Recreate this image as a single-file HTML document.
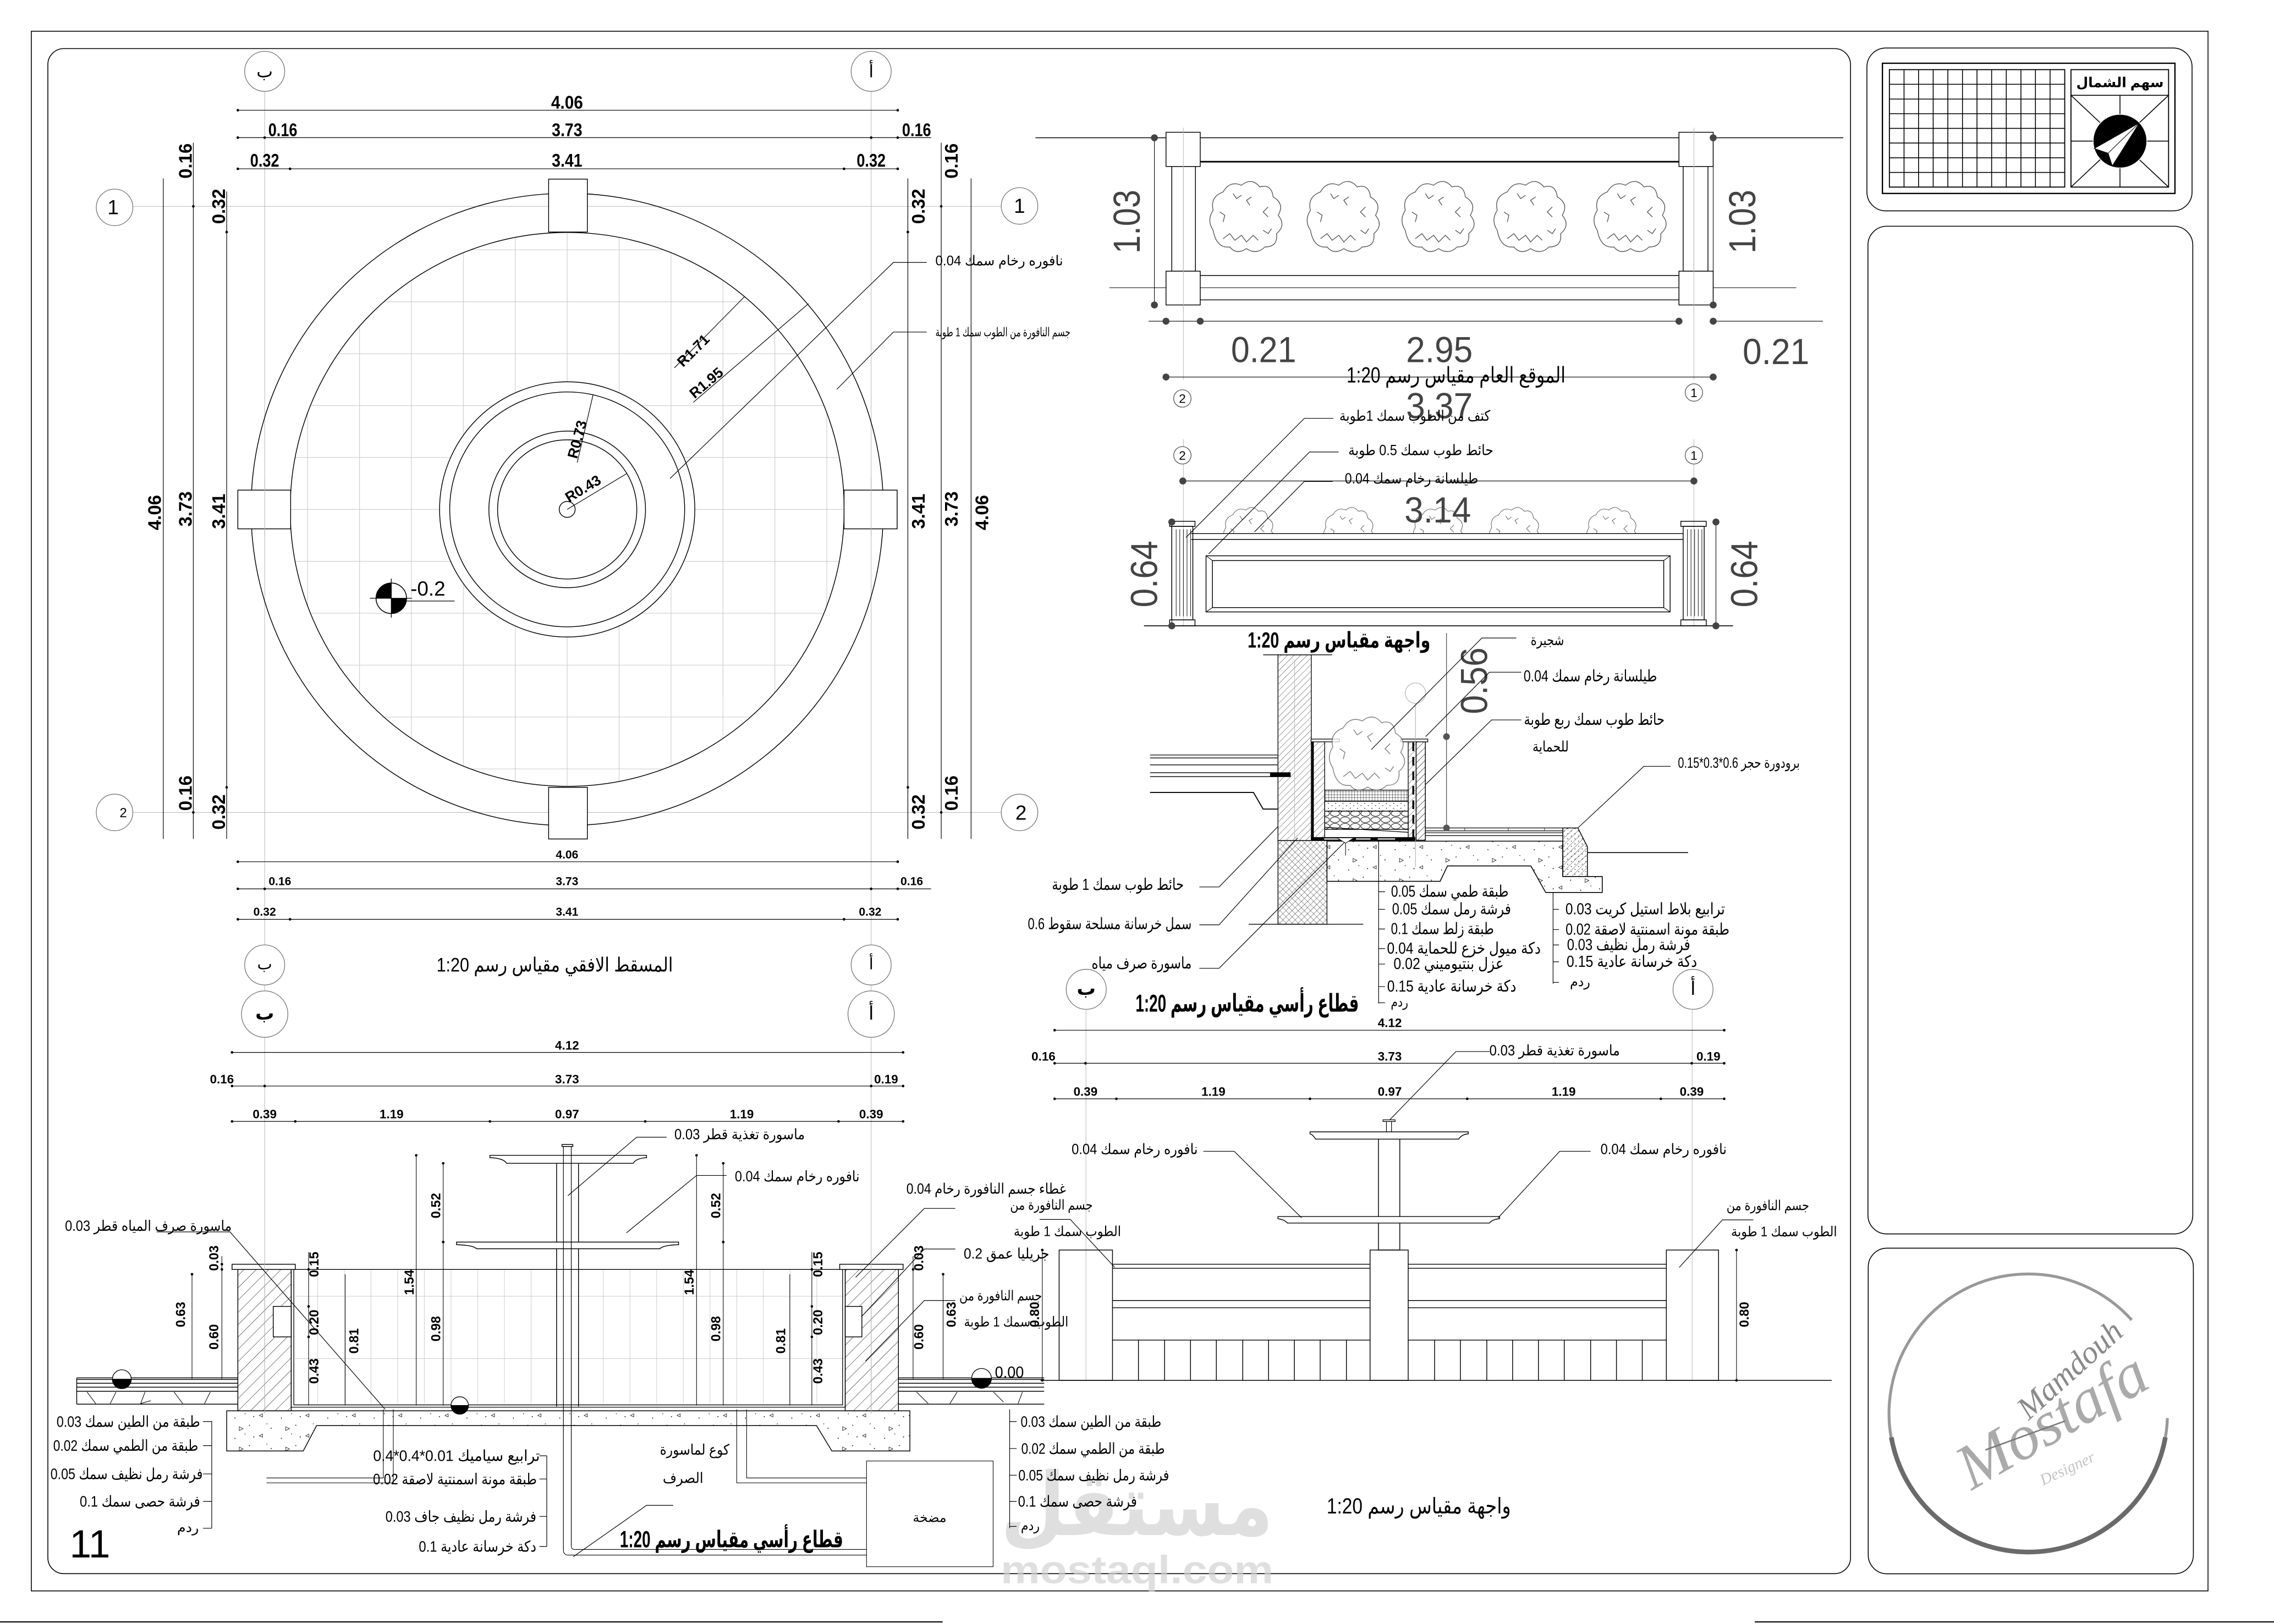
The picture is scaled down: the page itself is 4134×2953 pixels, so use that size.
<!DOCTYPE html>
<html><head><meta charset="utf-8">
<style>
html,body{margin:0;padding:0;background:#fff;}
svg{display:block;}
text{font-family:"Liberation Sans","DejaVu Sans",sans-serif;fill:#000;}
.a{font-family:"Liberation Sans","DejaVu Sans",sans-serif;dominant-baseline:central;text-anchor:middle;}
.d{font-family:"Liberation Sans Narrow","Liberation Sans",sans-serif;font-weight:bold;dominant-baseline:central;text-anchor:middle;}
.big{font-family:"Liberation Sans Narrow","Liberation Sans",sans-serif;fill:#444;dominant-baseline:central;text-anchor:middle;}
.logo{font-family:"Liberation Serif",serif;font-style:italic;text-anchor:middle;}
</style></head><body>
<svg width="4134" height="2953" viewBox="0 0 1568 1120" xmlns="http://www.w3.org/2000/svg">
<defs>
 <pattern id="h45" width="3.2" height="3.2" patternUnits="userSpaceOnUse" patternTransform="rotate(45)"><line x1="0" y1="0" x2="0" y2="3.2" stroke="#000" stroke-width="0.3"/></pattern>
 <pattern id="h45b" width="6" height="6" patternUnits="userSpaceOnUse" patternTransform="rotate(45)"><line x1="0" y1="0" x2="0" y2="6" stroke="#000" stroke-width="0.4"/></pattern>
 <pattern id="hx" width="3" height="3" patternUnits="userSpaceOnUse" patternTransform="rotate(45)"><path d="M0,0V3M0,0H3" stroke="#000" stroke-width="0.3" fill="none"/></pattern>
 <pattern id="mesh" width="2" height="2" patternUnits="userSpaceOnUse"><path d="M0,0H2M0,0V2" stroke="#000" stroke-width="0.35" fill="none"/></pattern>
 <pattern id="sand" width="5" height="3.5" patternUnits="userSpaceOnUse"><circle cx="1" cy="1" r="0.3"/><circle cx="3.5" cy="2.6" r="0.3"/></pattern>
 <pattern id="stone" width="7" height="4.4" patternUnits="userSpaceOnUse"><ellipse cx="3.5" cy="2.2" rx="3.2" ry="1.9" fill="none" stroke="#000" stroke-width="0.35"/></pattern>
 <pattern id="conc" width="32" height="14" patternUnits="userSpaceOnUse"><path d="M5,4 l2.6,1.3 l-2.6,1.3z M21,9 l-2.2,1.2 l2.2,1z" fill="none" stroke="#000" stroke-width="0.3"/><circle cx="12" cy="3" r="0.35"/><circle cx="27" cy="5" r="0.35"/><circle cx="15" cy="11" r="0.35"/><circle cx="2" cy="12" r="0.35"/><circle cx="24" cy="2" r="0.3"/><circle cx="9" cy="9" r="0.3"/></pattern>
 <clipPath id="cpg"><circle cx="391.1" cy="351.3" r="191"/></clipPath>
 <clipPath id="cpe"><rect x="800" y="330" width="400" height="38"/></clipPath>
 <g id="shrub" fill="#fff" stroke="#555" stroke-width="0.45">
  <path d="M-20,8 Q-24,2 -20,-4 Q-22,-12 -14,-15 Q-10,-22 -3,-19 Q3,-24 8,-18 Q15,-20 16,-12 Q23,-8 19,-1 Q24,5 18,10 Q19,18 11,18 Q6,23 0,19 Q-6,23 -10,18 Q-18,19 -20,8 Z"/>
  <path d="M-14,13 l4,-3 l3,4 l4,-3 l3,4 l4,-4 l3,3 M-16,-3 l3,2 l-1,4 M13,-6 l-3,3 l3,3 M3,-12 l-3,2 l2,3 M-8,-14 l2,3 l3,-2 M10,8 l3,2 l2,-3" fill="none"/>
 </g>
</defs>

<!-- ===== FRAMES ===== -->
<g fill="none" stroke="#000" stroke-width="0.6">
 <rect x="21.6" y="21.5" width="1500.9" height="1075.7"/>
 <rect x="33" y="33.5" width="1243" height="1051.8" rx="11"/>
 <rect x="1287.3" y="33.1" width="224.2" height="112.3" rx="13"/>
 <rect x="1288" y="156" width="224" height="695" rx="13"/>
 <rect x="1288.2" y="860.8" width="224.2" height="224.6" rx="13"/>
 <path d="M0,1118.6H650M1210,1118.6H1568" stroke-width="0.8"/>
</g>

<!-- ===== TITLE BLOCK TOP ===== -->
<g fill="none" stroke="#000">
 <rect x="1298" y="43.6" width="201.7" height="89.8" stroke-width="0.9"/>
 <rect x="1302.8" y="48" width="120.9" height="81" stroke-width="0.7"/>
 <path stroke-width="0.6" d="M1312.9,48V129M1322.9,48V129M1333,48V129M1343.1,48V129M1353.2,48V129M1363.2,48V129M1373.3,48V129M1383.4,48V129M1393.5,48V129M1403.5,48V129M1413.6,48V129
 M1302.8,58.1H1423.7M1302.8,68.3H1423.7M1302.8,78.4H1423.7M1302.8,88.5H1423.7M1302.8,98.6H1423.7M1302.8,108.8H1423.7M1302.8,118.9H1423.7"/>
 <rect x="1428" y="48" width="67.3" height="81" stroke-width="0.7"/>
 <path stroke-width="0.6" d="M1428,65.7H1495.3M1461.8,65.7V129M1428,97.3H1495.3M1428,65.7L1495.3,129M1495.3,65.7L1428,129"/>
</g>
<text x="1461.8" y="57" class="a" font-size="9.5" font-weight="bold">سهم الشمال</text>
<circle cx="1461.8" cy="97.3" r="18.5" fill="#000" stroke="#fff" stroke-width="0.5"/>
<path d="M1475.2,84.7 L1444.1,102.4 L1453.6,105.6 L1456.5,114.4 Z" fill="#fff" stroke="#000" stroke-width="0.4"/>
<path d="M1475.2,84.7 L1453.6,105.6" stroke="#000" stroke-width="0.4"/>

<!-- ===== LOGO ===== -->
<path d="M1494.5,978 A96,96 0 1 1 1469.9,910.4" fill="none" stroke="#999" stroke-width="2"/>
<path d="M1493.1,991.3 A96,96 0 0 1 1304.1,991.3" fill="none" stroke="#6a6a6a" stroke-width="3.2"/>
<text x="1432" y="950" class="logo" font-size="22" style="fill:#8a8a8a" transform="rotate(-42 1432 950)">Mamdouh</text>
<text x="1422" y="992" class="logo" font-size="44" style="fill:#aaa" transform="rotate(-30 1422 992)">Mostafa</text>
<text x="1427" y="1016" class="logo" font-size="11" style="fill:#c4c4c4" transform="rotate(-25 1427 1016)">Designer</text>
<path d="M1369,1000 L1424,980" stroke="#777" stroke-width="1"/>

<!-- ===== WATERMARK ===== -->
<g opacity="0.7">
<text x="784" y="1038" class="a" font-size="60" font-weight="bold" style="fill:#d2d2d2" textLength="188" lengthAdjust="spacingAndGlyphs">مستقل</text>
<text x="784" y="1083" class="a" font-size="27" font-weight="bold" style="fill:#d2d2d2" textLength="188" lengthAdjust="spacingAndGlyphs">mostaql.com</text>
</g>

<!-- ===== PLAN VIEW ===== -->
<g stroke="#bbb" stroke-width="0.4" fill="none">
 <path d="M182.5,63V651.7M182.5,679.3V683.4M182.5,715.4V975M600.7,63V651.7M600.7,679.3V683.4M600.7,715.4V975M92,142.3H690M92,560.3H690"/>
</g>
<g clip-path="url(#cpg)" stroke="#cfcfcf" stroke-width="0.45">
 <path d="M212.1,150V560M247.9,150V560M283.7,150V560M319.5,150V560M355.3,150V560M391.1,150V560M426.9,150V560M462.7,150V560M498.5,150V560M534.3,150V560M570.1,150V560
 M190,172.3H600M190,208.1H600M190,243.9H600M190,279.7H600M190,315.5H600M190,351.3H600M190,387.1H600M190,422.9H600M190,458.7H600M190,494.5H600M190,530.3H600"/>
</g>
<g fill="none" stroke="#000" stroke-width="0.55">
 <circle cx="391.1" cy="351.3" r="218"/>
 <circle cx="391.1" cy="351.3" r="191"/>
 <circle cx="391.1" cy="351.3" r="88" fill="#fff"/>
 <circle cx="391.1" cy="351.3" r="81"/>
 <circle cx="391.1" cy="351.3" r="54"/>
 <circle cx="391.1" cy="351.3" r="48"/>
 <circle cx="391.1" cy="351.3" r="5.5"/>
 <rect x="378.3" y="123.5" width="26.7" height="36.5" fill="#fff"/>
 <rect x="378.3" y="543" width="26.7" height="35.6" fill="#fff"/>
 <rect x="164" y="338" width="36.4" height="26.7" fill="#fff"/>
 <rect x="582" y="338" width="36.6" height="26.7" fill="#fff"/>
</g>
<g stroke="#bbb" stroke-width="0.4"><path d="M182.5,330V370M600.7,330V370"/></g>
<!-- axis circles -->
<g fill="#fff" stroke="#777" stroke-width="0.5">
 <circle cx="182.5" cy="49.2" r="13.8"/><circle cx="600.7" cy="49.2" r="13.8"/>
 <circle cx="79" cy="143" r="12.6"/><circle cx="703" cy="142" r="12.6"/>
 <circle cx="79" cy="560.3" r="12.6"/><circle cx="703" cy="560.3" r="12.6"/>
 <circle cx="182.5" cy="665.5" r="13.8"/><circle cx="600.7" cy="665.5" r="13.8"/>
 <circle cx="182.5" cy="699.4" r="16"/><circle cx="600.7" cy="699.4" r="16"/>
</g>
<text x="182.5" y="49" class="a" font-size="12">ب</text>
<text x="600.7" y="49" class="a" font-size="12">أ</text>
<text x="78" y="143" class="a" font-size="14">1</text>
<text x="703" y="142" class="a" font-size="14">1</text>
<text x="85" y="561" class="a" font-size="9">2</text>
<text x="704" y="560.5" class="a" font-size="14">2</text>
<text x="182.5" y="665" class="a" font-size="11">ب</text>
<text x="600.7" y="665" class="a" font-size="11">أ</text>
<text x="182.5" y="699" class="a" font-size="13" font-weight="bold">ب</text>
<text x="600.7" y="699" class="a" font-size="13">أ</text>

<!-- plan dims -->
<g stroke="#000" stroke-width="0.45" fill="none">
 <path d="M164,76H619M164,94.9H642M164,116.4H619"/>
 <path d="M112.6,123V578.6M133.3,98.4V578.6M156.3,132V578.6M626,123V578.6M649,98.4V578.6M669.6,123V578.6"/>
 <path d="M164,594.3H619M164,613H642M164,634H619"/>
</g>
<g fill="#000">
 <circle cx="164" cy="76" r="0.9"/><circle cx="619" cy="76" r="0.9"/>
 <circle cx="164" cy="94.9" r="0.9"/><circle cx="182.5" cy="94.9" r="0.9"/><circle cx="600.7" cy="94.9" r="0.9"/><circle cx="619" cy="94.9" r="0.9"/>
 <circle cx="164" cy="116.4" r="0.9"/><circle cx="200" cy="116.4" r="0.9"/><circle cx="582" cy="116.4" r="0.9"/><circle cx="619" cy="116.4" r="0.9"/>
 <circle cx="133.3" cy="142.3" r="0.9"/><circle cx="133.3" cy="560.3" r="0.9"/><circle cx="156.3" cy="160" r="0.9"/><circle cx="156.3" cy="543" r="0.9"/>
 <circle cx="649" cy="142.3" r="0.9"/><circle cx="649" cy="560.3" r="0.9"/><circle cx="626" cy="160" r="0.9"/><circle cx="626" cy="543" r="0.9"/>
 <circle cx="164" cy="594.3" r="0.9"/><circle cx="619" cy="594.3" r="0.9"/>
 <circle cx="164" cy="613" r="0.9"/><circle cx="182.5" cy="613" r="0.9"/><circle cx="600.7" cy="613" r="0.9"/><circle cx="619" cy="613" r="0.9"/>
 <circle cx="164" cy="634" r="0.9"/><circle cx="200" cy="634" r="0.9"/><circle cx="582" cy="634" r="0.9"/><circle cx="619" cy="634" r="0.9"/>
</g>
<g font-size="12.5">
 <text x="391" y="70.5" textLength="22" lengthAdjust="spacingAndGlyphs" class="d">4.06</text>
 <text x="195" y="89.5" class="d" textLength="20" lengthAdjust="spacingAndGlyphs">0.16</text>
 <text x="391" y="89.5" class="d" textLength="21" lengthAdjust="spacingAndGlyphs">3.73</text>
 <text x="632" y="89.5" class="d" textLength="20" lengthAdjust="spacingAndGlyphs">0.16</text>
 <text x="182.5" y="110.5" class="d" textLength="20" lengthAdjust="spacingAndGlyphs">0.32</text>
 <text x="391" y="110.5" class="d" textLength="21" lengthAdjust="spacingAndGlyphs">3.41</text>
 <text x="600.7" y="110.5" class="d" textLength="20" lengthAdjust="spacingAndGlyphs">0.32</text>
 <text x="106.6" y="353.5" class="d" transform="rotate(-90 106.6 353.5)">4.06</text>
 <text x="127.8" y="111" class="d" transform="rotate(-90 127.8 111)">0.16</text>
 <text x="127.8" y="351" class="d" transform="rotate(-90 127.8 351)">3.73</text>
 <text x="127.8" y="547" class="d" transform="rotate(-90 127.8 547)">0.16</text>
 <text x="150.7" y="142.3" class="d" transform="rotate(-90 150.7 142.3)">0.32</text>
 <text x="150.7" y="352.6" class="d" transform="rotate(-90 150.7 352.6)">3.41</text>
 <text x="150.7" y="560" class="d" transform="rotate(-90 150.7 560)">0.32</text>
 <text x="633.3" y="142.3" class="d" transform="rotate(-90 633.3 142.3)">0.32</text>
 <text x="633.3" y="352.6" class="d" transform="rotate(-90 633.3 352.6)">3.41</text>
 <text x="633.3" y="560" class="d" transform="rotate(-90 633.3 560)">0.32</text>
 <text x="656" y="111" class="d" transform="rotate(-90 656 111)">0.16</text>
 <text x="656" y="351" class="d" transform="rotate(-90 656 351)">3.73</text>
 <text x="656" y="547" class="d" transform="rotate(-90 656 547)">0.16</text>
 <text x="677" y="353.5" class="d" transform="rotate(-90 677 353.5)">4.06</text>
</g>
<g>
 <text x="391" y="589.5" class="d" font-size="8">4.06</text>
 <text x="193" y="608" class="d" font-size="8">0.16</text>
 <text x="391" y="608" class="d" font-size="8">3.73</text>
 <text x="628.7" y="608" class="d" font-size="8">0.16</text>
 <text x="182.5" y="629" class="d" font-size="8">0.32</text>
 <text x="391" y="629" class="d" font-size="8">3.41</text>
 <text x="600" y="629" class="d" font-size="8">0.32</text>
</g>
<!-- plan radii & leaders -->
<g stroke="#000" stroke-width="0.45" fill="none">
 <path d="M513.4,204.5L465,253.7M557.5,209.4L478,277.5M409,272L398,319M391.1,351.3L432,326.7"/>
 <path d="M639,181H616L462,330M639,229H616L577,268.5"/>
</g>
<text x="478" y="241.7" class="d" font-size="10" transform="rotate(-45 478 241.7)">R1.71</text>
<text x="487" y="264" class="d" font-size="10" transform="rotate(-40 487 264)">R1.95</text>
<text x="398" y="303" class="d" font-size="10" transform="rotate(-75 398 303)">R0.73</text>
<text x="402" y="337" class="d" font-size="10" transform="rotate(-31 402 337)">R0.43</text>
<text x="689" y="180" class="a" font-size="9.5" textLength="88" lengthAdjust="spacingAndGlyphs">نافوره رخام سمك 0.04</text>
<text x="691.5" y="229" class="a" font-size="8.5" textLength="93" lengthAdjust="spacingAndGlyphs">جسم النافورة من الطوب سمك 1 طوبة</text>
<!-- level -->
<circle cx="269.8" cy="412.6" r="10.5" fill="#fff" stroke="#000" stroke-width="0.6"/>
<path d="M269.8,412.6 L259.3,412.6 A10.5,10.5 0 0 1 269.8,402.1 Z M269.8,412.6 L280.3,412.6 A10.5,10.5 0 0 1 269.8,423.1 Z" fill="#000"/>
<path d="M255,412.6H284M269.8,399V426M276,414.5H313.5" stroke="#000" stroke-width="0.5"/>
<text x="283" y="406" font-size="14" dominant-baseline="central">-0.2</text>
<text x="382.5" y="665.5" class="a" font-size="13.5" textLength="163" lengthAdjust="spacingAndGlyphs">المسقط الافقي مقياس رسم 1:20</text>

<!-- ===== SITE PLAN ===== -->
<g stroke="#bbb" stroke-width="0.4"><path d="M816,88V262M816,303V432M1168,88V262M1168,303V432"/></g>
<g fill="none" stroke="#000" stroke-width="0.55">
 <path d="M714,95H1271"/>
 <path d="M827.6,111.5H1157.7" stroke-width="1.1"/>
 <path d="M827.6,190H1157.7M827.6,206.8H1157.7"/>
 <path d="M765,198.4H1238.6" stroke-width="0.4"/>
 <rect x="808" y="114.8" width="16.3" height="72.2"/>
 <rect x="1160.6" y="114.8" width="17.1" height="72.2"/>
 <rect x="804" y="91.2" width="23.6" height="23.6" fill="#fff"/>
 <rect x="804" y="187" width="23.6" height="23.3" fill="#fff"/>
 <rect x="1157.7" y="91.2" width="23.6" height="23.6" fill="#fff"/>
 <rect x="1157.7" y="187" width="23.6" height="23.3" fill="#fff"/>
 <path d="M796,95V210.3M1181.3,95V210.3" stroke-width="0.4"/>
 <path d="M792,221.5H1160M1181,221.5H1257M804,260H1181.3" stroke-width="0.45"/>
</g>
<g stroke="#bbb" stroke-width="0.4"><path d="M816,91V215M1168,91V215"/></g>
<use href="#shrub" transform="translate(859.5,149.6) scale(1.15)"/>
<use href="#shrub" transform="translate(926.6,149.6) scale(1.15)"/>
<use href="#shrub" transform="translate(992,149.6) scale(1.15)"/>
<use href="#shrub" transform="translate(1055.4,149.6) scale(1.15)"/>
<use href="#shrub" transform="translate(1124.4,149.6) scale(1.15)"/>
<g fill="#444">
 <circle cx="796" cy="95" r="2.4"/><circle cx="1181.3" cy="95" r="2.4"/><circle cx="796" cy="210.3" r="2.4"/><circle cx="1181.3" cy="210.3" r="2.4"/>
 <circle cx="804" cy="221.5" r="2.4"/><circle cx="827.6" cy="221.5" r="2.4"/><circle cx="1157.7" cy="221.5" r="2.4"/><circle cx="1181.3" cy="221.5" r="2.4"/>
 <circle cx="804" cy="260" r="2.4"/><circle cx="1181.3" cy="260" r="2.4"/>
</g>
<text x="777" y="152.8" class="big" font-size="26" transform="rotate(-90 777 152.8)" textLength="44" lengthAdjust="spacingAndGlyphs">1.03</text>
<text x="1201.5" y="152.8" class="big" font-size="26" transform="rotate(-90 1201.5 152.8)" textLength="44" lengthAdjust="spacingAndGlyphs">1.03</text>
<text x="871.3" y="241" class="big" font-size="25" textLength="45" lengthAdjust="spacingAndGlyphs">0.21</text>
<text x="992.5" y="241" class="big" font-size="25" textLength="46" lengthAdjust="spacingAndGlyphs">2.95</text>
<text x="1224.6" y="242.3" class="big" font-size="25" textLength="46" lengthAdjust="spacingAndGlyphs">0.21</text>
<text x="992.5" y="279.8" class="big" font-size="25" textLength="46" lengthAdjust="spacingAndGlyphs">3.37</text>
<text x="1004" y="258.8" class="a" font-size="15" textLength="151" lengthAdjust="spacingAndGlyphs">الموقع العام مقياس رسم 1:20</text>
<g fill="#fff" stroke="#555" stroke-width="0.5">
 <circle cx="815.3" cy="274.8" r="6"/><circle cx="1168" cy="270.7" r="6"/>
 <circle cx="815.3" cy="314" r="6"/><circle cx="1168" cy="314" r="6"/>
</g>
<text x="815.3" y="275" class="a" font-size="8.5">2</text>
<text x="1168" y="271" class="a" font-size="8.5">1</text>
<text x="815.3" y="314.2" class="a" font-size="8.5">2</text>
<text x="1168" y="314.2" class="a" font-size="8.5">1</text>

<!-- ===== ELEVATION (top) ===== -->
<g clip-path="url(#cpe)">
 <use href="#shrub" transform="translate(861.3,367) scale(0.8)"/>
 <use href="#shrub" transform="translate(930.3,367) scale(0.8)"/>
 <use href="#shrub" transform="translate(992,367) scale(0.8)"/>
 <use href="#shrub" transform="translate(1044.6,367) scale(0.8)"/>
 <use href="#shrub" transform="translate(1111.7,367) scale(0.8)"/>
</g>
<g fill="none" stroke="#000" stroke-width="0.55">
 <path d="M815.6,331.7H1168" stroke-width="0.45"/>
 <path d="M821.4,368H1160.6M821.4,372H1160.6"/>
 <rect x="831.6" y="383.3" width="320" height="38.7"/>
 <rect x="836" y="386.6" width="311.2" height="32.4"/>
 <path d="M831.6,383.3L836,386.6M1151.6,383.3L1147.2,386.6M831.6,422L836,419M1151.6,422L1147.2,419" stroke-width="0.4"/>
 <rect x="808" y="363" width="14.5" height="64.5"/>
 <rect x="806.5" y="359.5" width="17.5" height="3.5"/>
 <rect x="806.5" y="427.5" width="17.5" height="4.1"/>
 <path d="M811,365V425M813.5,365V425M816,365V425M818.5,365V425M821,365V425" stroke-width="0.35"/>
 <rect x="1160.6" y="363" width="14.5" height="64.5"/>
 <rect x="1159" y="359.5" width="17.5" height="3.5"/>
 <rect x="1159" y="427.5" width="17.5" height="4.1"/>
 <path d="M1163.5,365V425M1166,365V425M1168.5,365V425M1171,365V425M1173.5,365V425" stroke-width="0.35"/>
 <path d="M788.8,431.6H1195" stroke-width="0.6"/>
 <path d="M808,360V431.6M1183.2,360V431.6" stroke-width="0.4"/>
</g>
<g fill="#444">
 <circle cx="815.6" cy="331.7" r="2.4"/><circle cx="1168" cy="331.7" r="2.4"/>
 <circle cx="808" cy="360" r="2.4"/><circle cx="808" cy="431.6" r="2.4"/><circle cx="1183.2" cy="360" r="2.4"/><circle cx="1183.2" cy="431.6" r="2.4"/>
</g>
<text x="991.4" y="351.5" class="big" font-size="25" textLength="46" lengthAdjust="spacingAndGlyphs">3.14</text>
<text x="788.9" y="395.9" class="big" font-size="26" transform="rotate(-90 788.9 395.9)" textLength="46" lengthAdjust="spacingAndGlyphs">0.64</text>
<text x="1202.7" y="395.9" class="big" font-size="26" transform="rotate(-90 1202.7 395.9)" textLength="46" lengthAdjust="spacingAndGlyphs">0.64</text>
<g stroke="#000" stroke-width="0.45" fill="none">
 <path d="M919.4,288.5H899.4L817.8,370.6M923,311.7H903L833.4,382M919,332H899.4L865,366.8"/>
</g>
<text x="975.6" y="286.8" class="a" font-size="10" textLength="104" lengthAdjust="spacingAndGlyphs">كتف من الطوب سمك 1طوبة</text>
<text x="979.7" y="310.4" class="a" font-size="10" textLength="100" lengthAdjust="spacingAndGlyphs">حائط طوب سمك 0.5 طوبة</text>
<text x="973.3" y="330" class="a" font-size="10" textLength="92" lengthAdjust="spacingAndGlyphs">طيلسانة رخام سمك 0.04</text>
<text x="923.3" y="441.7" class="a" font-size="15" font-weight="bold" textLength="126" lengthAdjust="spacingAndGlyphs">واجهة مقياس رسم 1:20</text>

<!-- ===== SECTION DETAIL (top right) ===== -->
<g stroke="#000" stroke-width="0.5">
 <path d="M793,520.7H881M793,522.7H881M793,527.5H881M793,532.9H881M793,535.6H881" fill="none"/>
 <rect x="876" y="532.9" width="13.7" height="2.7" fill="#000"/>
 <path d="M793,546.5H864.3L871,558H881" fill="none" stroke-width="0.7"/>
 <rect x="881.2" y="451.6" width="23" height="128.1" fill="url(#h45)"/>
 <path d="M871,451.6H918.5" fill="none"/>
 <path d="M892.7,455V578" stroke="#bbb" stroke-width="0.4"/>
 <rect x="881.2" y="579.7" width="33.8" height="57.7" fill="url(#hx)"/>
 <path d="M861,637.4H940" fill="none"/>
 <path d="M915,580.1H1077.6V604.5H1104.8V615.5H1065.8L1055.6,597.2H998.1L993,607.8H915Z" fill="url(#conc)" stroke-width="0.6"/>
 <rect x="904.2" y="511.6" width="9.2" height="67.8" fill="url(#h45)"/>
 <rect x="971" y="511.6" width="11.8" height="67.8" fill="url(#h45)"/>
 <rect x="976.5" y="511.6" width="6.3" height="67.8" fill="url(#h45)"/>
 <rect x="904" y="509.7" width="19.5" height="1.9" fill="#fff"/>
 <rect x="965.9" y="509.7" width="18.6" height="1.9" fill="#fff"/>
 <path d="M905.2,511.6V579.4" stroke-width="1.4"/>
 <path d="M974.5,512V578" stroke-width="1.3" stroke-dasharray="6,4"/>
 <rect x="904.2" y="577.6" width="72" height="2" fill="#000"/>
 <path d="M913,578.6H925M935,578.6H945M950,578.6H962" stroke="#fff" stroke-width="0.8"/>
 <rect x="913.4" y="544.9" width="57.6" height="7.8" fill="url(#mesh)"/>
 <rect x="913.4" y="552.7" width="57.6" height="6.7" fill="url(#sand)"/>
 <rect x="913.4" y="559.4" width="57.6" height="12.6" fill="url(#stone)"/>
 <path d="M913.4,570.5L971,574" fill="none"/>
 <path d="M921.9,577.8H933.7L927.8,581.5Z M927.8,581.5V590" fill="#fff" stroke-width="0.4"/>
 <path d="M983,571H1077.6M983,573H1077.6M983,574.3H1077.6M983,576.3H1077.6" fill="none" stroke-width="0.45"/>
 <path d="M1010,571V573M1040,571V573M1065,571V573" stroke-width="0.3"/>
 <path d="M1077.6,571H1088L1094.6,584V604.5H1077.6Z" fill="url(#sand)"/>
 <path d="M1077.6,571H1088L1094.6,584V604.5H1077.6Z" fill="url(#h45)"/>
 <path d="M1094.6,588H1164" fill="none" stroke-width="0.6"/>
</g>
<use href="#shrub" transform="translate(943,520) scale(1.2)" opacity="0.75"/>
<g stroke="#aaa" stroke-width="0.4" fill="none"><circle cx="976" cy="478" r="7"/><path d="M976,485V598"/></g>
<g stroke="#555" stroke-width="0.5"><path d="M997.4,436.6V571"/></g>
<g fill="#555"><circle cx="997.4" cy="508" r="2.3"/><circle cx="997.4" cy="571" r="2.3"/></g>
<text x="1016.6" y="469.5" class="big" font-size="26" transform="rotate(-90 1016.6 469.5)" textLength="46" lengthAdjust="spacingAndGlyphs">0.56</text>
<g stroke="#000" stroke-width="0.45" fill="none">
 <path d="M1045.5,440H1021.8L945.6,516.9M1049,463.6H1027L983,508M1049,496.5H1028.5L983,541M1152,528.5H1133.5L1088,571"/>
 <path d="M827,611.7H840.6L881.2,570M827,637.8H840.6L894.8,577.8M827,667.8H840.6L927,581"/>
 <path d="M950.6,579.7V692M950.6,615H955M950.6,627.1H955M950.6,640.7H955M950.6,654.2H955M950.6,664.9H955M950.6,680.4H955M950.6,691.6H955"/>
 <path d="M1070.9,615.5V678.4M1070.9,627.1H1075M1070.9,641.1H1075M1070.9,651.7H1075M1070.9,663.3H1075M1070.9,677.5H1075"/>
</g>
<g>
 <text x="1067" y="441.4" class="a" font-size="10" textLength="23" lengthAdjust="spacingAndGlyphs">شجيرة</text>
 <text x="1096.6" y="466.5" class="a" font-size="11" textLength="92" lengthAdjust="spacingAndGlyphs">طيلسانة رخام سمك 0.04</text>
 <text x="1099.3" y="496.5" class="a" font-size="11" textLength="97" lengthAdjust="spacingAndGlyphs">حائط طوب سمك ربع طوبة</text>
 <text x="1069.2" y="514.9" class="a" font-size="10" textLength="25" lengthAdjust="spacingAndGlyphs">للحماية</text>
 <text x="1199" y="526" class="a" font-size="10" textLength="84" lengthAdjust="spacingAndGlyphs">برودورة حجر 0.6*0.3*0.15</text>
 <text x="770.8" y="610.3" class="a" font-size="11" textLength="91" lengthAdjust="spacingAndGlyphs">حائط طوب سمك 1 طوبة</text>
 <text x="765.2" y="637.4" class="a" font-size="11" textLength="113" lengthAdjust="spacingAndGlyphs">سمل خرسانة مسلحة سقوط 0.6</text>
 <text x="787.2" y="664.5" class="a" font-size="11" textLength="69" lengthAdjust="spacingAndGlyphs">ماسورة صرف مياه</text>
 <text x="999.7" y="615" class="a" font-size="11" textLength="81" lengthAdjust="spacingAndGlyphs">طبقة طمي سمك 0.05</text>
 <text x="1000.9" y="627.1" class="a" font-size="11" textLength="82" lengthAdjust="spacingAndGlyphs">فرشة رمل سمك 0.05</text>
 <text x="994.6" y="640.7" class="a" font-size="11" textLength="71" lengthAdjust="spacingAndGlyphs">طبقة زلط سمك 0.1</text>
 <text x="1009.4" y="654.2" class="a" font-size="11" textLength="106" lengthAdjust="spacingAndGlyphs">دكة ميول خزع للحماية 0.04</text>
 <text x="998.9" y="664.9" class="a" font-size="11" textLength="76" lengthAdjust="spacingAndGlyphs">عزل بنتيوميني 0.02</text>
 <text x="1001" y="680.4" class="a" font-size="11" textLength="89" lengthAdjust="spacingAndGlyphs">دكة خرسانة عادية 0.15</text>
 <text x="965" y="691.6" class="a" font-size="9" textLength="12" lengthAdjust="spacingAndGlyphs">ردم</text>
 <text x="1134.4" y="627.1" class="a" font-size="11" textLength="110" lengthAdjust="spacingAndGlyphs">ترابيع بلاط استيل كريت 0.03</text>
 <text x="1136" y="641.1" class="a" font-size="11" textLength="113" lengthAdjust="spacingAndGlyphs">طبقة مونة اسمنتية لاصقة 0.02</text>
 <text x="1123" y="651.7" class="a" font-size="11" textLength="85" lengthAdjust="spacingAndGlyphs">فرشة رمل نظيف 0.03</text>
 <text x="1125.2" y="663.3" class="a" font-size="11" textLength="90" lengthAdjust="spacingAndGlyphs">دكة خرسانة عادية 0.15</text>
 <text x="1089.5" y="677.5" class="a" font-size="9" textLength="14" lengthAdjust="spacingAndGlyphs">ردم</text>
</g>
<g fill="#fff" stroke="#777" stroke-width="0.5"><circle cx="749" cy="682.3" r="13.8"/><circle cx="1167.4" cy="682.3" r="13.8"/></g>
<text x="749" y="682" class="a" font-size="13" font-weight="bold">ب</text>
<text x="1167.4" y="682" class="a" font-size="13">أ</text>
<g stroke="#bbb" stroke-width="0.4"><path d="M748.8,696V952M1166.8,696V952"/></g>
<text x="860" y="692" class="a" font-size="17" font-weight="bold" textLength="154" lengthAdjust="spacingAndGlyphs">قطاع رأسي مقياس رسم 1:20</text>

<!-- ===== BOTTOM-LEFT SECTION ===== -->
<g stroke="#000" stroke-width="0.45" fill="none">
 <path d="M160,725.8H622.7M160,749H622.7M160,773.4H622.7"/>
</g>
<g fill="#000">
 <circle cx="160" cy="725.8" r="0.9"/><circle cx="622.7" cy="725.8" r="0.9"/>
 <circle cx="160" cy="749" r="0.9"/><circle cx="182.5" cy="749" r="0.9"/><circle cx="600.7" cy="749" r="0.9"/><circle cx="622.7" cy="749" r="0.9"/>
 <circle cx="160" cy="773.4" r="0.9"/><circle cx="203.6" cy="773.4" r="0.9"/><circle cx="337.8" cy="773.4" r="0.9"/><circle cx="444.9" cy="773.4" r="0.9"/><circle cx="578.2" cy="773.4" r="0.9"/><circle cx="622.7" cy="773.4" r="0.9"/>
</g>
<text x="391" y="721" class="d" font-size="8.5">4.12</text>
<text x="153" y="744.3" class="d" font-size="8.5">0.16</text>
<text x="391" y="744.3" class="d" font-size="8.5">3.73</text>
<text x="611" y="744.3" class="d" font-size="8.5">0.19</text>
<text x="182.5" y="768.4" class="d" font-size="8.5">0.39</text>
<text x="270" y="768.4" class="d" font-size="8.5">1.19</text>
<text x="391" y="768.4" class="d" font-size="8.5">0.97</text>
<text x="511.5" y="768.4" class="d" font-size="8.5">1.19</text>
<text x="600.7" y="768.4" class="d" font-size="8.5">0.39</text>
<g stroke="#d0d0d0" stroke-width="0.4">
 <path d="M219,876V968M237.4,876V968M255.8,876V968M274.2,876V968M292.6,876V968M311,876V968M329.4,876V968M347.8,876V968M366.2,876V968M416,876V968M434.4,876V968M452.8,876V968M471.2,876V968M489.6,876V968M508,876V968M526.4,876V968M544.8,876V968M563.2,876V968M203.6,894H582M203.6,937H582"/>
</g>
<g stroke="#000" stroke-width="0.55" fill="none">
 <path d="M156.3,973H627.4V1000.7H573.6L563,983.2H218.3L209.1,1000.7H156.3Z" fill="url(#conc)"/>
 <rect x="164" y="875.5" width="36.8" height="97.5" fill="url(#h45b)"/>
 <rect x="582.8" y="875.5" width="36.7" height="97.5" fill="url(#h45b)"/>
 <rect x="188.4" y="901" width="12.4" height="21" fill="#fff"/>
 <rect x="582.8" y="901" width="11.5" height="21" fill="#fff"/>
 <rect x="160" y="871.9" width="43.6" height="3.6" fill="#fff"/>
 <rect x="579" y="871.9" width="43.7" height="3.6" fill="#fff"/>
 <path d="M203.6,875.5H579"/>
 <path d="M200.8,875.5V970.5H582.8V875.5M202.6,875.5V968.9H581V875.5" stroke-width="0.5"/>
 <path d="M52.9,950.3H164M52.9,951.4H164M52.9,954H164M52.9,956.7H164M52.9,959.5H164M52.9,968.4H164M52.9,950.3V968.4"/>
 <path d="M619.5,950.3H720M619.5,951.4H720M619.5,954H720M619.5,956.7H720M619.5,959.5H720M619.5,968.4H720"/>
 <path d="M60,960L66,968M80,960L76,968M100,960L97,968L104,966M120,960L126,968M145,960L141,968M632,960L640,968M660,960L655,968M685,960L692,967M705,960L702,968" stroke-width="0.4"/>
 <path d="M383.8,802.3V970M398.9,802.3V970"/>
 <path d="M337.8,796.8H445.8V798.4Q438.5,798.8 436.6,802.3H349.3Q347.4,798.8 337.8,798.4Z" fill="#fff"/>
 <path d="M314.8,856.6H467.9V858.4Q457,858.8 455,861.2H328.6Q326.5,858.8 314.8,858.4Z" fill="#fff"/>
 <path d="M388.5,790.6V1069M393.9,790.6V1066" stroke-width="0.45"/>
 <rect x="387.5" y="789.3" width="7.5" height="1.4" fill="#fff"/>
 <path d="M264.3,972V1019.3H183.8M271.2,972V1022.7H183.8" stroke-width="0.4"/>
 <path d="M508,972V1022.7H597.5M514.8,972V1019.3H597.5" stroke-width="0.4"/>
 <path d="M388.5,1069Q388.5,1072.5 392,1072.5H597.5M393.9,1066Q393.9,1068.6 396,1068.6H597.5" stroke-width="0.4"/>
 <rect x="597.5" y="1007.6" width="87.3" height="72.9" stroke-width="0.4"/>
</g>
<g stroke="#bbb" stroke-width="0.4"><path d="M182.5,870V975M600.7,870V975"/></g>
<g stroke="#000" stroke-width="0.5">
 <circle cx="84" cy="951.2" r="6.5" fill="#fff"/><path d="M77.5,951.2A6.5,6.5 0 0 0 90.5,951.2Z" fill="#000"/>
 <circle cx="676.8" cy="950.6" r="6.8" fill="#fff"/><path d="M670,950.6A6.8,6.8 0 0 0 683.6,950.6Z" fill="#000"/>
 <circle cx="317" cy="969.3" r="6" fill="#fff"/><path d="M311,969.3A6,6 0 0 0 323,969.3Z" fill="#000"/>
</g>
<text x="696" y="946.6" class="a" font-size="11" textLength="20" lengthAdjust="spacingAndGlyphs">0.00</text>
<g stroke="#000" stroke-width="0.4" fill="none">
 <path d="M132.4,878.8V951M153,866.3V951M212.8,863.5V969.3M238,878.8V969.3M287,796.8V969.3M305.6,802.3V969.3"/>
 <path d="M480.3,796.8V969.3M498.7,802.3V969.3M544.6,878.8V969.3M559.8,863.5V969.3M629.6,866.3V951M650.3,878.8V951"/>
</g>
<g fill="#000">
 <circle cx="132.4" cy="878.8" r="0.9"/><circle cx="153" cy="875.5" r="0.9"/><circle cx="153" cy="871.9" r="0.9"/><circle cx="212.8" cy="875.5" r="0.9"/><circle cx="212.8" cy="901" r="0.9"/><circle cx="212.8" cy="922" r="0.9"/>
 <circle cx="287" cy="796.8" r="0.9"/><circle cx="305.6" cy="802.3" r="0.9"/><circle cx="305.6" cy="856.6" r="0.9"/>
 <circle cx="480.3" cy="796.8" r="0.9"/><circle cx="498.7" cy="802.3" r="0.9"/><circle cx="498.7" cy="856.6" r="0.9"/>
 <circle cx="559.8" cy="875.5" r="0.9"/><circle cx="559.8" cy="901" r="0.9"/><circle cx="559.8" cy="922" r="0.9"/><circle cx="629.6" cy="875.5" r="0.9"/><circle cx="650.3" cy="878.8" r="0.9"/>
</g>
<g>
 <text x="125" y="906.6" class="d" font-size="9" transform="rotate(-90 125 906.6)">0.63</text>
 <text x="148" y="867.7" class="d" font-size="9" transform="rotate(-90 148 867.7)">0.03</text>
 <text x="148" y="922" class="d" font-size="9" transform="rotate(-90 148 922)">0.60</text>
 <text x="217" y="872" class="d" font-size="9" transform="rotate(-90 217 872)">0.15</text>
 <text x="217" y="912" class="d" font-size="9" transform="rotate(-90 217 912)">0.20</text>
 <text x="217" y="945.6" class="d" font-size="9" transform="rotate(-90 217 945.6)">0.43</text>
 <text x="244.5" y="924.8" class="d" font-size="9" transform="rotate(-90 244.5 924.8)">0.81</text>
 <text x="282.6" y="884.4" class="d" font-size="9" transform="rotate(-90 282.6 884.4)">1.54</text>
 <text x="301" y="831.5" class="d" font-size="9" transform="rotate(-90 301 831.5)">0.52</text>
 <text x="301" y="916.4" class="d" font-size="9" transform="rotate(-90 301 916.4)">0.98</text>
 <text x="475.7" y="884.4" class="d" font-size="9" transform="rotate(-90 475.7 884.4)">1.54</text>
 <text x="494" y="831.5" class="d" font-size="9" transform="rotate(-90 494 831.5)">0.52</text>
 <text x="494" y="916.4" class="d" font-size="9" transform="rotate(-90 494 916.4)">0.98</text>
 <text x="538.7" y="924.8" class="d" font-size="9" transform="rotate(-90 538.7 924.8)">0.81</text>
 <text x="564.4" y="872" class="d" font-size="9" transform="rotate(-90 564.4 872)">0.15</text>
 <text x="564.4" y="912" class="d" font-size="9" transform="rotate(-90 564.4 912)">0.20</text>
 <text x="564.4" y="945.6" class="d" font-size="9" transform="rotate(-90 564.4 945.6)">0.43</text>
 <text x="634" y="867.7" class="d" font-size="9" transform="rotate(-90 634 867.7)">0.03</text>
 <text x="634" y="922" class="d" font-size="9" transform="rotate(-90 634 922)">0.60</text>
 <text x="656.3" y="906.6" class="d" font-size="9" transform="rotate(-90 656.3 906.6)">0.63</text>
 <text x="713.8" y="906.6" class="d" font-size="9" transform="rotate(-90 713.8 906.6)">0.80</text>
</g>
<g stroke="#000" stroke-width="0.45" fill="none">
 <path d="M459.6,784.3H439L391.6,824.6M501,810.7H480.3L432,850.2"/>
 <path d="M108,849.6H158.6L265.6,972"/>
 <path d="M658.7,833.4H637.4L590,880.9M658.7,861.4H637.4L593.9,908.2M658.7,896.9H637.4L596.8,938.7"/>
 <path d="M716.8,841H738L768.6,874"/>
 <path d="M146,980V1054M140,980.4H146M140,997H146M140,1016.5H146M140,1035.5H146M140,1054H146"/>
 <path d="M377,1004V1066.6M372,1004H377M372,1020H377M372,1045.8H377M372,1066.6H377"/>
 <path d="M464.2,1038.2H445.8L395.3,1073.6"/>
</g>
<g>
 <text x="510" y="782.3" class="a" font-size="10" textLength="90" lengthAdjust="spacingAndGlyphs">ماسورة تغذية قطر 0.03</text>
 <text x="549.7" y="811.2" class="a" font-size="10" textLength="86" lengthAdjust="spacingAndGlyphs">نافوره رخام سمك 0.04</text>
 <text x="102.3" y="845.4" class="a" font-size="10" textLength="115" lengthAdjust="spacingAndGlyphs">ماسورة صرف المياه قطر 0.03</text>
 <text x="680" y="819.8" class="a" font-size="10" textLength="110" lengthAdjust="spacingAndGlyphs">غطاء جسم النافورة رخام 0.04</text>
 <text x="725" y="831.2" class="a" font-size="9.5" textLength="57" lengthAdjust="spacingAndGlyphs">جسم النافورة من</text>
 <text x="736" y="849.4" class="a" font-size="9.5" textLength="74" lengthAdjust="spacingAndGlyphs">الطوب سمك 1 طوبة</text>
 <text x="694" y="864.6" class="a" font-size="10" textLength="59" lengthAdjust="spacingAndGlyphs">جريليا عمق 0.2</text>
 <text x="690" y="893.7" class="a" font-size="9.5" textLength="57" lengthAdjust="spacingAndGlyphs">جسم النافورة من</text>
 <text x="700.7" y="911.8" class="a" font-size="9.5" textLength="72" lengthAdjust="spacingAndGlyphs">الطوب سمك 1 طوبة</text>
 <text x="88.5" y="980.4" class="a" font-size="10.5" textLength="99" lengthAdjust="spacingAndGlyphs">طبقة من الطين سمك 0.03</text>
 <text x="86.7" y="997" class="a" font-size="10.5" textLength="100" lengthAdjust="spacingAndGlyphs">طبقة من الطمي سمك 0.02</text>
 <text x="87.3" y="1016.5" class="a" font-size="10.5" textLength="105" lengthAdjust="spacingAndGlyphs">فرشة رمل نظيف سمك 0.05</text>
 <text x="96.5" y="1035.5" class="a" font-size="10.5" textLength="83" lengthAdjust="spacingAndGlyphs">فرشة حصى سمك 0.1</text>
 <text x="129.6" y="1054" class="a" font-size="9" textLength="15" lengthAdjust="spacingAndGlyphs">ردم</text>
 <text x="314.8" y="1004" class="a" font-size="10.5" textLength="115" lengthAdjust="spacingAndGlyphs">ترابيع سياميك 0.01*0.4*0.4</text>
 <text x="313.7" y="1020" class="a" font-size="10.5" textLength="113" lengthAdjust="spacingAndGlyphs">طبقة مونة اسمنتية لاصقة 0.02</text>
 <text x="317.8" y="1045.8" class="a" font-size="10.5" textLength="104" lengthAdjust="spacingAndGlyphs">فرشة رمل نظيف جاف 0.03</text>
 <text x="329.3" y="1066.6" class="a" font-size="10.5" textLength="81" lengthAdjust="spacingAndGlyphs">دكة خرسانة عادية 0.1</text>
 <text x="479" y="999.8" class="a" font-size="10" textLength="48" lengthAdjust="spacingAndGlyphs">كوع لماسورة</text>
 <text x="471" y="1019.3" class="a" font-size="10" textLength="28" lengthAdjust="spacingAndGlyphs">الصرف</text>
 <text x="641" y="1047" class="a" font-size="9">مضخة</text>
 <text x="504.4" y="1061.6" class="a" font-size="16" font-weight="bold" textLength="154" lengthAdjust="spacingAndGlyphs">قطاع رأسي مقياس رسم 1:20</text>
 <text x="62" y="1065.2" class="a" font-size="27">11</text>
</g>

<!-- ===== BOTTOM-RIGHT ELEVATION ===== -->
<g stroke="#000" stroke-width="0.45" fill="none">
 <path d="M727.2,710.5H1188.9M727.2,733.3H1188.9M727.2,757.8H1188.9"/>
</g>
<g fill="#000">
 <circle cx="727.2" cy="710.5" r="0.9"/><circle cx="1188.9" cy="710.5" r="0.9"/>
 <circle cx="727.2" cy="733.3" r="0.9"/><circle cx="748.5" cy="733.3" r="0.9"/><circle cx="1166.5" cy="733.3" r="0.9"/><circle cx="1188.9" cy="733.3" r="0.9"/>
 <circle cx="727.2" cy="757.8" r="0.9"/><circle cx="769.8" cy="757.8" r="0.9"/><circle cx="903.3" cy="757.8" r="0.9"/><circle cx="1011.7" cy="757.8" r="0.9"/><circle cx="1145.2" cy="757.8" r="0.9"/><circle cx="1188.9" cy="757.8" r="0.9"/>
</g>
<text x="958.3" y="705.5" class="d" font-size="8.5">4.12</text>
<text x="719.5" y="728.6" class="d" font-size="8.5">0.16</text>
<text x="958.3" y="728.6" class="d" font-size="8.5">3.73</text>
<text x="1178" y="728.6" class="d" font-size="8.5">0.19</text>
<text x="748.5" y="752.8" class="d" font-size="8.5">0.39</text>
<text x="836.7" y="752.8" class="d" font-size="8.5">1.19</text>
<text x="958.3" y="752.8" class="d" font-size="8.5">0.97</text>
<text x="1078.2" y="752.8" class="d" font-size="8.5">1.19</text>
<text x="1166.5" y="752.8" class="d" font-size="8.5">0.39</text>
<g stroke="#000" stroke-width="0.55" fill="none">
 <rect x="950.5" y="785.6" width="14.7" height="76.5" fill="#fff"/>
 <path d="M903.3,780.6H1012.4V782Q1008,782.3 1005.8,785.6H907.2Q905,782.3 903.3,782Z" fill="#fff"/>
 <path d="M881.2,839H1034V840.5Q1029,841 1027,843.5H887.8Q885.5,841 881.2,840.5Z" fill="#fff"/>
 <path d="M956,773.5V780.6M959.5,773.5V780.6M953.6,772.3H962V773.5H953.6Z" stroke-width="0.45"/>
 <rect x="730.3" y="862.1" width="36.8" height="89.9"/>
 <rect x="944.7" y="862.1" width="26.3" height="89.9"/>
 <rect x="1149" y="862.1" width="36" height="89.9"/>
 <path d="M767.1,871.9H944.7M767.1,874.7H944.7M767.1,896.9H944.7M767.1,901.9H944.7M767.1,924.2H944.7
 M971,871.9H1149M971,874.7H1149M971,896.9H1149M971,901.9H1149M971,924.2H1149"/>
 <path d="M785,924.2V952M803,924.2V952M820.9,924.2V952M838.7,924.2V952M856.9,924.2V952M874.7,924.2V952M892.5,924.2V952M910.3,924.2V952M928.4,924.2V952
 M989.2,924.2V952M1007,924.2V952M1025.2,924.2V952M1043,924.2V952M1060.8,924.2V952M1078.6,924.2V952M1096.8,924.2V952M1114.6,924.2V952M1132.4,924.2V952"/>
 <path d="M717.5,952H1263" stroke-width="0.6"/>
 <path d="M1197.4,862.1V952M718.7,862.1V952" stroke-width="0.4"/>
</g>
<g fill="#000"><circle cx="1197.4" cy="862.1" r="0.9"/><circle cx="1197.4" cy="952" r="0.9"/><circle cx="718.7" cy="862.1" r="0.9"/><circle cx="718.7" cy="952" r="0.9"/></g>
<text x="1203.2" y="906.6" class="d" font-size="9" transform="rotate(-90 1203.2 906.6)">0.80</text>
<g stroke="#000" stroke-width="0.45" fill="none">
 <path d="M1027.1,725.2H1003.9L958.3,772.3"/>
 <path d="M829.8,794H851L897.5,839.9M1096.8,794H1075.5L1033,839.9"/>
 <path d="M1209,841.3H1187.7L1157.9,874.1"/>
 <path d="M696.2,972V1054M696.2,980.4H701M696.2,999H701M696.2,1017.4H701M696.2,1035.5H701M696.2,1052.7H701"/>
</g>
<g>
 <text x="1072" y="724.4" class="a" font-size="10" textLength="90" lengthAdjust="spacingAndGlyphs">ماسورة تغذية قطر 0.03</text>
 <text x="782.4" y="792.6" class="a" font-size="10" textLength="87" lengthAdjust="spacingAndGlyphs">نافوره رخام سمك 0.04</text>
 <text x="1147.1" y="792.6" class="a" font-size="10" textLength="87" lengthAdjust="spacingAndGlyphs">نافوره رخام سمك 0.04</text>
 <text x="1219" y="831.5" class="a" font-size="9.5" textLength="57" lengthAdjust="spacingAndGlyphs">جسم النافورة من</text>
 <text x="1230.2" y="849.6" class="a" font-size="9.5" textLength="73" lengthAdjust="spacingAndGlyphs">الطوب سمك 1 طوبة</text>
 <text x="752.3" y="980.4" class="a" font-size="10.5" textLength="97" lengthAdjust="spacingAndGlyphs">طبقة من الطين سمك 0.03</text>
 <text x="753.7" y="999" class="a" font-size="10.5" textLength="99" lengthAdjust="spacingAndGlyphs">طبقة من الطمي سمك 0.02</text>
 <text x="754.2" y="1017.4" class="a" font-size="10.5" textLength="104" lengthAdjust="spacingAndGlyphs">فرشة رمل نظيف سمك 0.05</text>
 <text x="743" y="1035.5" class="a" font-size="10.5" textLength="82" lengthAdjust="spacingAndGlyphs">فرشة حصى سمك 0.1</text>
 <text x="710.4" y="1052.7" class="a" font-size="9" textLength="13" lengthAdjust="spacingAndGlyphs">ردم</text>
 <text x="978.3" y="1038.8" class="a" font-size="15" textLength="127" lengthAdjust="spacingAndGlyphs">واجهة مقياس رسم 1:20</text>
</g>
</svg>
</body></html>
